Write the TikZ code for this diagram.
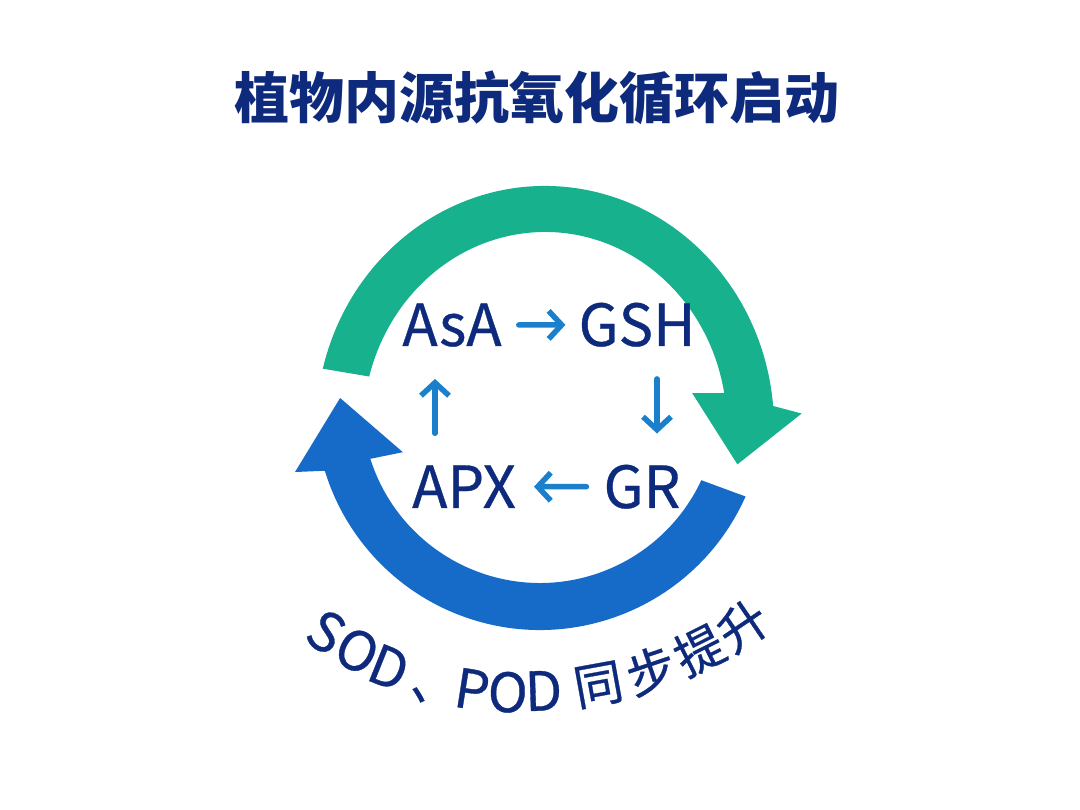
\documentclass[tikz,border=0pt]{standalone}
\usepackage{fontspec}
\setmainfont{Noto Sans CJK SC}
\newfontfamily\cjk{Noto Sans CJK SC}
\newfontfamily\cjkm[FakeBold=0.6]{Noto Sans CJK SC}
\usetikzlibrary{arrows.meta,calc}
\definecolor{navy}{RGB}{14,42,124}
\definecolor{tealc}{RGB}{23,178,141}
\definecolor{cblue}{RGB}{22,106,200}
\definecolor{arrowblue}{RGB}{26,128,204}
\begin{document}
\begin{tikzpicture}[x=1pt,y=1pt,
  lbl/.style={text=navy,font=\cjkm\fontsize{58}{60}\selectfont,inner sep=0pt,anchor=base},
  ttl/.style={text=navy,font=\cjk\bfseries\fontsize{55}{60}\selectfont,inner sep=0pt},
  arc text/.style={text=navy,font=\cjkm\fontsize{54}{58}\selectfont,inner sep=0pt},
  arc cjk/.style={text=navy,font=\cjkm\fontsize{49}{54}\selectfont,inner sep=0pt},
  flow/.style={draw=arrowblue,line width=5.5pt,line cap=round,line join=round,-{Straight Barb[length=13pt,width=28pt]}}]
\useasboundingbox (0,0) rectangle (1080,810);
\fill[white] (0,0) rectangle (1080,810);
% title
\node[ttl] (title) at (537,712) {植物内源抗氧化循环启动};
% green arrow
\begin{scope}[shift={(545,383)}]
\fill[tealc] (166:229 and 241) arc[start angle=166,end angle=5,x radius=229,y radius=241]
  -- (3:257) -- (-11:196) -- (13:151) -- (10:182 and 195)
  arc[start angle=10,end angle=165,x radius=182,y radius=195] -- cycle;
\end{scope}
% blue arrow
\begin{scope}[shift={(540,405)}]
\fill[cblue] (-24:225) arc[start angle=-24,end angle=-163,radius=225]
  -- (-164.7:254) -- (178:200) -- (-161:145) -- (-162.4:178)
  arc[start angle=-162.4,end angle=-25,radius=178] -- cycle;
\end{scope}
% labels
\node[lbl] (asa) at (452,464) {AsA};
\node[lbl] (gsh) at (637,464) {GSH};
\node[lbl] (apx) at (464,302) {APX};
\node[lbl] (gr) at (642,302) {GR};
% small arrows
\draw[flow,shorten <=17pt,shorten >=13pt] (asa) -- (gsh);
\draw[flow] ([xshift=20pt,yshift=-32pt]gsh.south) -- ([xshift=15pt,yshift=31pt]gr.north);
\draw[flow,shorten <=17pt,shorten >=18pt] (gr) -- (apx);
\draw[flow] ([xshift=-29pt,yshift=32pt]apx.north) -- ([xshift=-17pt,yshift=-32pt]asa.south);
% curved text
\coordinate (tc) at (531,496);
\foreach \c/\a/\r [count=\i] in {S/-122.8/378,O/-117.3/379,D/-111.9/381,P/-98.9/380,O/-93.5/379,D/-88.1/377}
  \node[arc text,rotate=\a+90] (ch\i) at ($(tc)+(\a:\r)$) {\c};
\foreach \c/\a/\r [count=\i] in {、/-104.3/397,同/-79.7/377,步/-71.4/376,提/-63.4/376,升/-55.8/377}
  \node[arc cjk,rotate=\a+90] (cj\i) at ($(tc)+(\a:\r)$) {\c};
\end{tikzpicture}
\end{document}
